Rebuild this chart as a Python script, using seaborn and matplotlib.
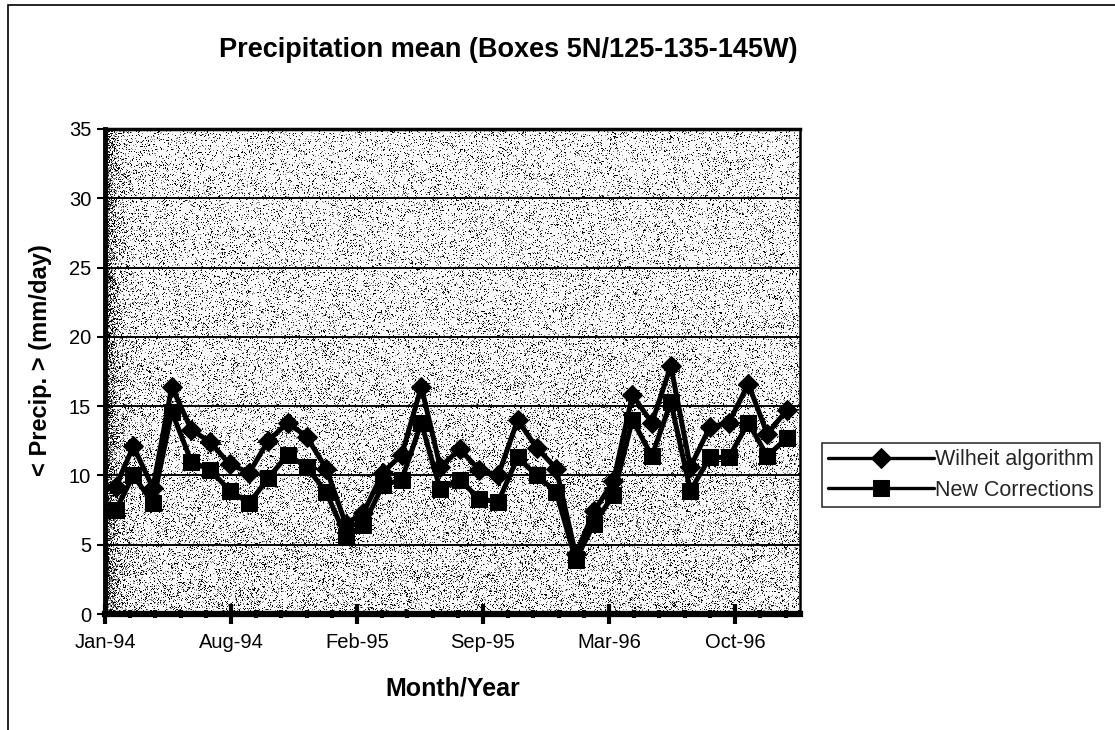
import numpy as np
import pandas as pd
import matplotlib
matplotlib.use("Agg")
import matplotlib.pyplot as plt
import matplotlib.dates as mdates
from matplotlib.ticker import MultipleLocator
from matplotlib.patches import Rectangle
import seaborn as sns

# Monthly means, Jan 1994 - Dec 1996 (mm/day)
months = pd.date_range("1994-01-31", periods=36, freq="ME")
wilheit = [9.2, 12.1, 9.1, 16.4, 13.3, 12.4, 10.8, 10.2, 12.5, 13.8, 12.8, 10.5,
           6.5, 7.3, 10.2, 11.5, 16.4, 10.6, 11.9, 10.4, 10.0, 14.0, 12.0, 10.5,
           4.3, 7.4, 9.6, 15.8, 13.8, 17.9, 10.6, 13.5, 13.8, 16.6, 13.0, 14.7]
new_corr = [7.5, 10.0, 8.0, 14.6, 11.0, 10.4, 8.9, 8.0, 9.8, 11.5, 10.6, 8.8,
            5.6, 6.4, 9.3, 9.7, 13.8, 9.0, 9.7, 8.3, 8.1, 11.3, 10.0, 8.8,
            3.9, 6.5, 8.6, 14.0, 11.4, 15.3, 8.9, 11.3, 11.3, 13.8, 11.4, 12.7]
series_names = ["Wilheit algorithm", "New Corrections"]
y_ticks = [0, 5, 10, 15, 20, 25, 30, 35]
x_start, x_end = pd.Timestamp("1994-01-14"), pd.Timestamp("1997-01-21")

df = pd.DataFrame({"month": months, series_names[0]: wilheit, series_names[1]: new_corr})

sns.set_theme(style="white")
plt.rcParams["font.family"] = ["Liberation Sans", "DejaVu Sans"]

W, H = 1115, 730
fig = plt.figure(figsize=(W / 100, H / 100), dpi=100)
fig.patch.set_facecolor("white")

# plot area in pixels
L, R, T, B = 105, 800, 129, 614
ax = fig.add_axes([L / W, 1 - B / H, (R - L) / W, (B - T) / H])
ax.set_facecolor("none")

# stippled grey plot-area fill, darker toward the left edge
rng = np.random.default_rng(3)
ph, pw = B - T, R - L
cols = np.arange(pw)[None, :]
rows = np.arange(ph)[:, None]
density = 0.13 + 0.08 * (rows / ph) + 0.78 * np.exp(-cols / 9.0)
speck = rng.random((ph, pw)) < density
shade = np.where(rng.random((ph, pw)) < 0.55, 0.0, 0.5)
tex = np.where(speck, shade, 0.98)
fig.figimage(tex, xo=L, yo=H - B, cmap="gray", vmin=0, vmax=1, zorder=-1, origin="upper")

sns.lineplot(data=df, x="month", y=series_names[0], ax=ax, color="black",
             lw=3.6, marker="D", markersize=10, markeredgecolor="black",
             markerfacecolor="black", label=series_names[0], zorder=3)
sns.lineplot(data=df, x="month", y=series_names[1], ax=ax, color="black",
             lw=3.6, marker="s", markersize=12, markeredgecolor="black",
             markerfacecolor="black", label=series_names[1], zorder=4)

ax.set_ylim(0, 35)
ax.set_yticks(y_ticks)
ax.set_xlim(x_start, x_end)
start_num = mdates.date2num(x_start)
ax.xaxis.set_major_locator(MultipleLocator(200, offset=start_num))
ax.xaxis.set_minor_locator(MultipleLocator(40, offset=start_num))
ax.xaxis.set_major_formatter(mdates.DateFormatter("%b-%y"))

ax.yaxis.grid(True, color="black", lw=1.4)
ax.xaxis.grid(False)
ax.set_axisbelow(True)

for side, lw in [("left", 3.5), ("bottom", 4.5), ("top", 2.5), ("right", 1.8)]:
    ax.spines[side].set_visible(True)
    ax.spines[side].set_color("black")
    ax.spines[side].set_linewidth(lw)

ax.tick_params(axis="y", which="major", direction="out", length=6, width=1.5,
               color="black", labelsize=14.5, pad=4, left=True)
ax.tick_params(axis="x", which="major", direction="inout", length=14, width=3,
               color="black", labelsize=14.5, pad=7, bottom=True)
ax.tick_params(axis="x", which="minor", direction="inout", length=6, width=3,
               color="black", bottom=True)
for lab in ax.get_xticklabels() + ax.get_yticklabels():
    lab.set_color("black")

ax.set_xlabel("Month/Year", fontsize=18, fontweight="bold", labelpad=17, color="black")
ax.set_ylabel("< Precip. > (mm/day)", fontsize=17, fontweight="bold", color="black")
ax.yaxis.set_label_coords((52 - L) / (R - L), (B - 360) / (B - T))

fig.text(508 / W, 1 - 50 / H, "Precipitation mean (Boxes 5N/125-135-145W)",
         ha="center", va="center", fontsize=19.5, fontweight="bold", color="black")

leg = ax.legend(loc="center left", bbox_to_anchor=(822 / W, 1 - 475 / H),
                bbox_transform=fig.transFigure, fontsize=15.5, frameon=True,
                fancybox=False, edgecolor="black", handlelength=4.9,
                handletextpad=0.05, borderpad=0.3, labelspacing=0.45,
                borderaxespad=0)
leg.get_frame().set_linewidth(1.2)
for h in leg.get_lines():
    h.set_linewidth(2.4)

# chart border
fig.patches.append(Rectangle((8 / W, -0.05), 1.2, 1 - 5 / H + 0.05, transform=fig.transFigure,
                             fill=False, edgecolor="black", lw=1.2, zorder=-2))

fig.savefig("out.png", dpi=100)
